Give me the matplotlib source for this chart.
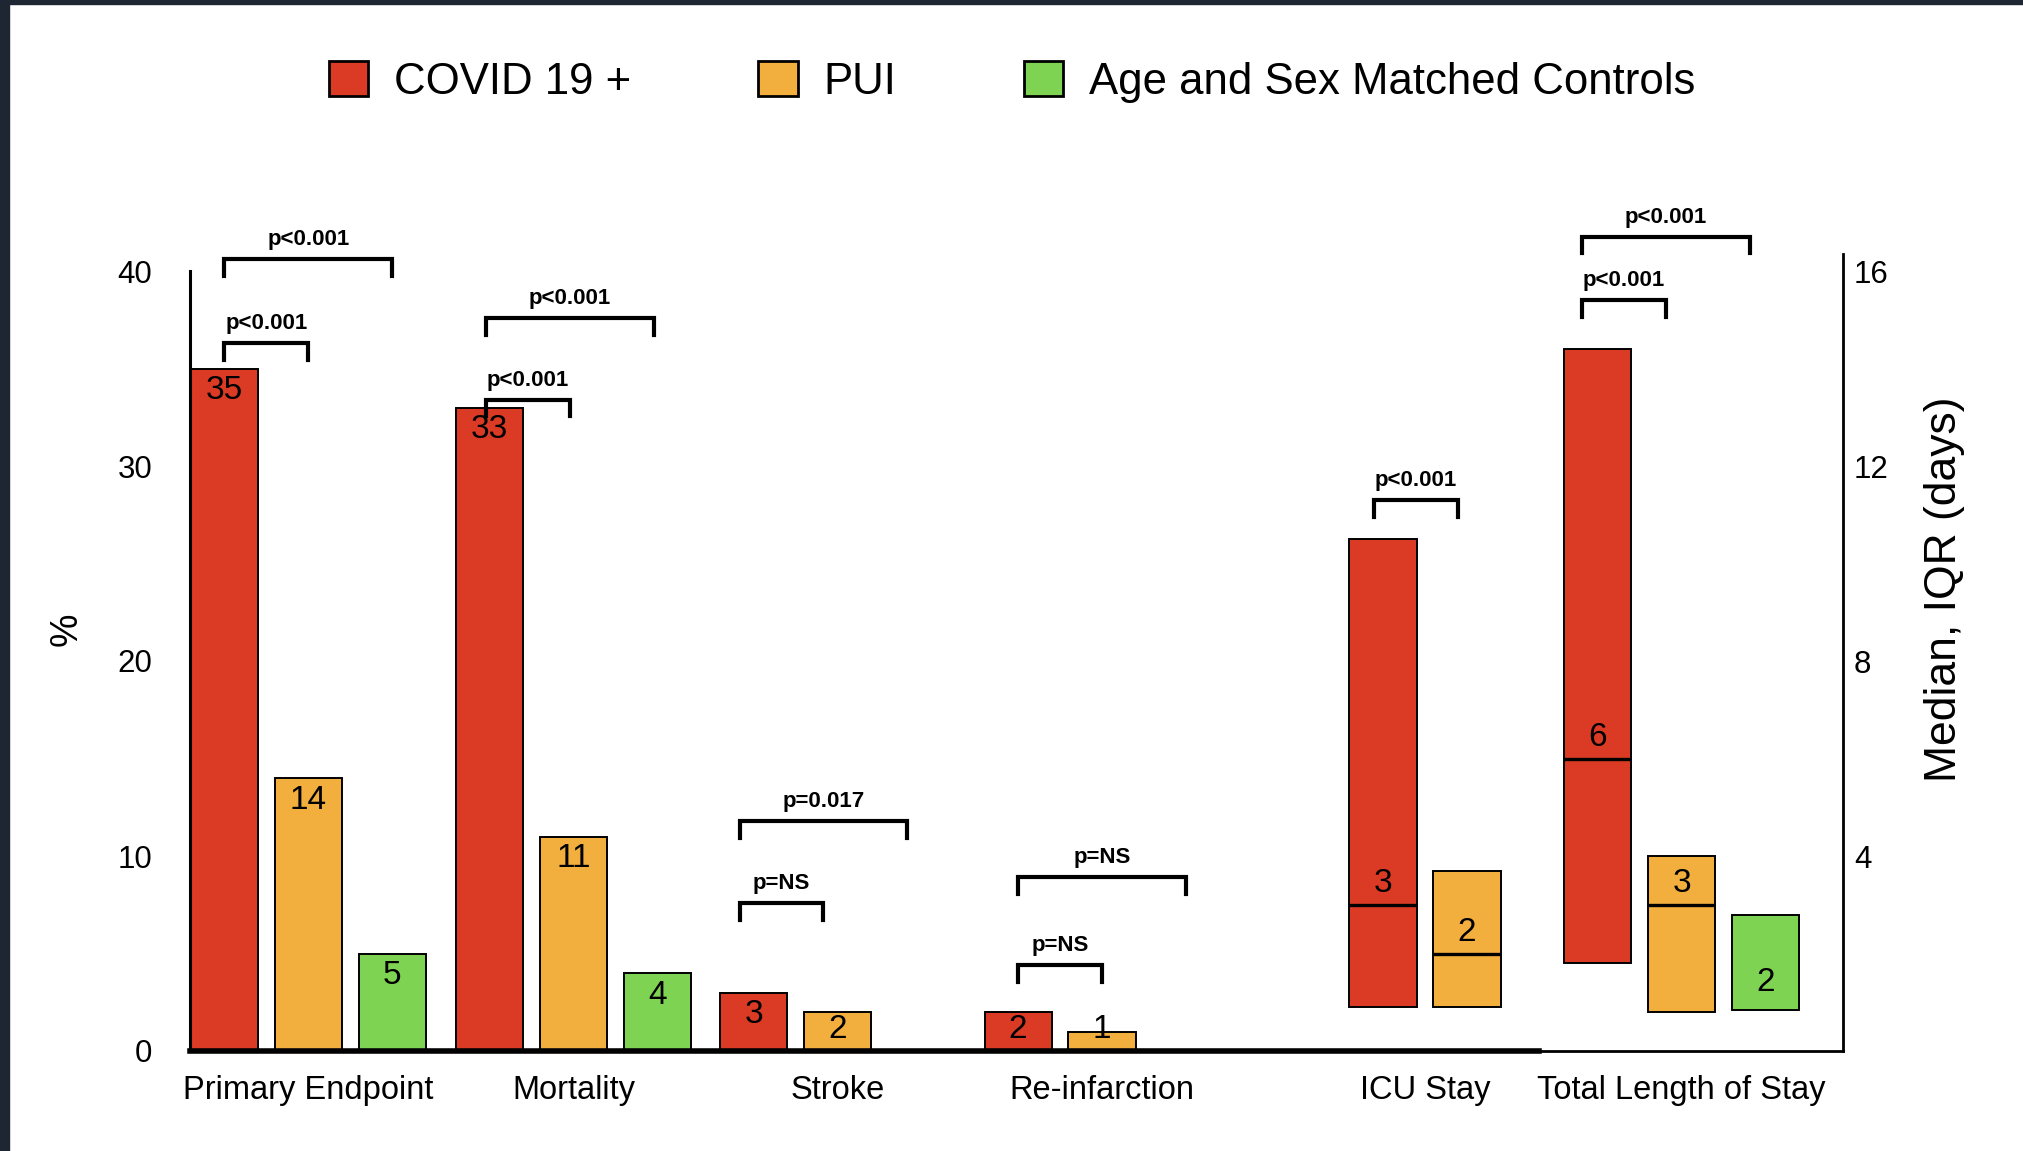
import matplotlib
matplotlib.use("Agg")
import matplotlib.pyplot as plt
from matplotlib.patches import Patch, Rectangle

plt.rcParams["font.family"] = ["Liberation Sans", "DejaVu Sans"]

# ---- data -------------------------------------------------------------
series_names = ["COVID 19 +", "PUI", "Age and Sex Matched Controls"]

# outcomes reported as percentages (left axis)
pct_categories = ["Primary Endpoint", "Mortality", "Stroke", "Re-infarction"]
covid_pct = [35, 33, 3, 2]
pui_pct = [14, 11, 2, 1]
control_pct = [5, 4, None, None]

# outcomes reported as median and IQR in days (right axis)
day_categories = ["ICU Stay", "Total Length of Stay"]
covid_median = [3, 6]
covid_q1 = [0.9, 1.8]
covid_q3 = [10.5, 14.4]
pui_median = [2, 3]
pui_q1 = [0.9, 0.8]
pui_q3 = [3.7, 4.0]
control_median = [None, 2]
control_q1 = [None, 0.85]
control_q3 = [None, 2.8]

# p-values: COVID vs PUI, COVID vs controls
pct_p_vs_pui = ["p<0.001", "p<0.001", "p=NS", "p=NS"]
pct_p_vs_control = ["p<0.001", "p<0.001", "p=0.017", "p=NS"]
day_p_vs_pui = ["p<0.001", "p<0.001"]
day_p_vs_control = [None, "p<0.001"]

# ---- layout -----------------------------------------------------------
colors = ["#DB3A25", "#F2AF3E", "#7FD352"]
pct_centers = [1.41, 4.57, 7.72, 10.87]
day_centers = [14.72, 17.78]
bar_w = 0.8
pct_low_bracket = [36.3, 33.4, 7.6, 4.4]
pct_high_bracket = [40.6, 37.6, 11.8, 8.9]
pct_bracket_shift = [0.0, -0.04, -0.17, 0.0]
day_low_bracket = [11.3, 15.4]
day_high_bracket = [None, 16.7]
day_bracket_shift = [-0.11, -0.19]

fig = plt.figure(figsize=(20.24, 11.51), dpi=100)
ax = fig.add_axes([190 / 2024, 100 / 1151, 1653 / 2024, 819 / 1151])
ax2 = ax.twinx()

ax.set_xlim(0, 1653 / 83.9)
ax.set_ylim(0, 42)
ax2.set_ylim(0, 42 / 2.5)

edge = dict(edgecolor="black", linewidth=1.4)
value_fs = 24

# percentage bars
pct_series = [covid_pct, pui_pct, control_pct]
for s, vals in enumerate(pct_series):
    for i, v in enumerate(vals):
        if v is None:
            continue
        x = pct_centers[i] + (s - 1)
        ax.bar(x, v, width=bar_w, color=colors[s], zorder=2, **edge)
        ax.text(x, max(v - 1.15, 1.1), str(v), ha="center", va="center",
                fontsize=value_fs, zorder=4)

# median / IQR boxes
day_series = [
    (covid_median, covid_q1, covid_q3),
    (pui_median, pui_q1, pui_q3),
    (control_median, control_q1, control_q3),
]
for i, c in enumerate(day_categories):
    present = [s for s in range(3) if day_series[s][0][i] is not None]
    n = len(present)
    for k, s in enumerate(present):
        med, q1, q3 = (arr[i] for arr in day_series[s])
        x = day_centers[i] + (k - (n - 1) / 2)
        ax2.bar(x, q3 - q1, bottom=q1, width=bar_w, color=colors[s],
                zorder=2, **edge)
        if s < 2:
            ax2.hlines(med, x - bar_w / 2, x + bar_w / 2, color="black",
                       linewidth=2.4, zorder=3)
            ax2.text(x, med + 0.44, str(med), ha="center", va="center",
                     fontsize=value_fs, zorder=4)
        else:
            ax2.text(x, med - 0.6, str(med), ha="center", va="center",
                     fontsize=value_fs, zorder=4)


def bracket(axis, x1, x2, y, leg, label, text_gap):
    axis.plot([x1, x1, x2, x2], [y - leg, y, y, y - leg], color="black",
              linewidth=3, solid_joinstyle="miter", clip_on=False, zorder=5)
    axis.text((x1 + x2) / 2, y + text_gap, label, ha="center", va="center",
              fontsize=16, fontweight="bold", clip_on=False, zorder=5)


for i in range(len(pct_categories)):
    c = pct_centers[i] + pct_bracket_shift[i]
    bracket(ax, c - 1, c, pct_low_bracket[i], 0.86, pct_p_vs_pui[i], 1.0)
    bracket(ax, c - 1, c + 1, pct_high_bracket[i], 0.86, pct_p_vs_control[i], 1.0)

for i in range(len(day_categories)):
    n = sum(day_series[s][0][i] is not None for s in range(3))
    first = day_centers[i] - (n - 1) / 2 + day_bracket_shift[i]
    bracket(ax2, first, first + 1, day_low_bracket[i], 0.34, day_p_vs_pui[i], 0.4)
    if day_p_vs_control[i] is not None:
        bracket(ax2, first, first + 2, day_high_bracket[i], 0.34,
                day_p_vs_control[i], 0.4)

# axes styling
for a in (ax, ax2):
    a.spines["top"].set_visible(False)
ax.spines["right"].set_visible(False)
ax2.spines["left"].set_visible(False)
ax.spines["left"].set_bounds(0, 40)
ax.spines["left"].set_linewidth(2.2)
ax.spines["bottom"].set_bounds(0, 16.08)
ax.spines["bottom"].set_linewidth(4)
ax2.spines["bottom"].set_linewidth(2)
ax2.spines["right"].set_bounds(0, 16.35)
ax2.spines["right"].set_linewidth(2)

ax.set_yticks([0, 10, 20, 30, 40])
ax.tick_params(axis="y", length=0, pad=27, labelsize=22.5)
ax2.set_yticks([4, 8, 12, 16])
ax2.tick_params(axis="y", length=0, pad=8, labelsize=22.5)
ax.set_xticks(pct_centers + day_centers)
ax.set_xticklabels(pct_categories + day_categories)
ax.tick_params(axis="x", length=0, pad=17, labelsize=23.5)

fig.text(67 / 2024, 1 - 629 / 1151, "%", rotation=90, ha="center",
         va="center", fontsize=27)
fig.text(1945 / 2024, 1 - 589 / 1151, "Median, IQR (days)", rotation=90,
         ha="center", va="center", fontsize=32)

handles = [Patch(facecolor=col, edgecolor="black", linewidth=2) for col in colors]
fig.legend(handles, series_names, loc="center", bbox_to_anchor=(0.5, 0.929),
           ncol=3, frameon=False, fontsize=31.5, handlelength=0.9,
           handleheight=0.87, handletextpad=0.6, columnspacing=2.9)

# dark frame strips along the top and left edges
fig.add_artist(Rectangle((0, 1 - 4 / 1151), 1, 4 / 1151,
                         transform=fig.transFigure, color="#1F2633", zorder=10))
fig.add_artist(Rectangle((0, 0), 9 / 2024, 1, transform=fig.transFigure,
                         color="#1F2633", zorder=10))

fig.savefig("out.png", dpi=100)
